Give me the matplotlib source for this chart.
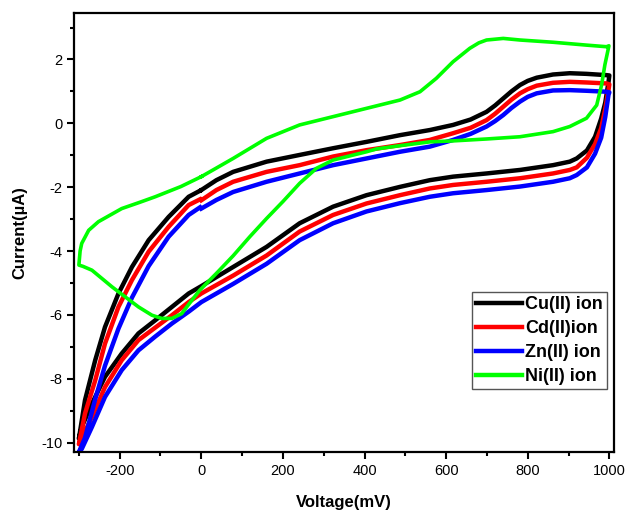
import matplotlib
matplotlib.use("Agg")
import matplotlib.pyplot as plt
from matplotlib.ticker import MultipleLocator

plt.rcParams['font.family'] = ['Liberation Sans', 'DejaVu Sans']
plt.rcParams['axes.unicode_minus'] = False

# Sweep path shared by Cu, Cd, Zn (mV): 0 -> 1000 -> -300 -> 0
v_path = [0, 37, 78, 160, 241, 323, 405, 487, 560, 617, 660, 699, 720, 740, 760, 781, 800, 822, 862, 903, 944, 993, 1000,
          998, 990, 980, 965, 945, 920, 903, 862, 781, 699, 617, 560, 487, 405, 323, 241, 160, 78, 0,
          -31, -72, -113, -154, -195, -236, -268, -293, -300,
          -285, -260, -236, -203, -170, -129, -80, -31, -3]

cu_current = [-2.09, -1.78, -1.52, -1.20, -0.99, -0.78, -0.58, -0.37, -0.21, -0.05, 0.12, 0.36, 0.56, 0.78, 1.00, 1.20, 1.33, 1.43, 1.53, 1.57, 1.55, 1.51, 1.50,
              1.30, 0.65, 0.15, -0.42, -0.85, -1.10, -1.20, -1.31, -1.46, -1.57, -1.67, -1.78, -1.99, -2.25, -2.61, -3.13, -3.87, -4.50, -5.10,
              -5.33, -5.75, -6.17, -6.58, -7.21, -7.94, -8.78, -9.51, -9.88,
              -8.67, -7.42, -6.38, -5.33, -4.50, -3.66, -2.93, -2.30, -2.11]

cd_current = [-2.41, -2.09, -1.83, -1.52, -1.31, -1.04, -0.84, -0.68, -0.52, -0.31, -0.14, 0.10, 0.30, 0.52, 0.74, 0.94, 1.07, 1.18, 1.27, 1.30, 1.28, 1.25, 1.22,
              1.05, 0.45, -0.15, -0.65, -1.08, -1.38, -1.46, -1.57, -1.72, -1.83, -1.93, -2.04, -2.25, -2.51, -2.87, -3.39, -4.14, -4.77, -5.33,
              -5.60, -6.01, -6.40, -6.79, -7.42, -8.26, -9.20, -9.85, -10.05,
              -9.09, -8.05, -6.90, -5.75, -4.91, -4.02, -3.24, -2.56, -2.38]

zn_current = [-2.67, -2.40, -2.15, -1.83, -1.57, -1.31, -1.10, -0.89, -0.73, -0.52, -0.33, -0.10, 0.07, 0.26, 0.48, 0.68, 0.83, 0.94, 1.03, 1.04, 1.02, 0.99, 0.97,
              0.90, 0.20, -0.45, -0.95, -1.38, -1.62, -1.72, -1.83, -1.98, -2.09, -2.19, -2.30, -2.50, -2.76, -3.13, -3.66, -4.40, -5.03, -5.60,
              -5.90, -6.27, -6.68, -7.11, -7.73, -8.57, -9.51, -10.20, -10.30,
              -9.85, -8.64, -7.59, -6.43, -5.46, -4.47, -3.55, -2.87, -2.63]

# Ni sweep path (mV) and current (uA)
ni_voltage = [0, 37, 78, 160, 241, 323, 405, 487, 536, 576, 617, 658, 680, 699, 740, 781, 862, 944, 993, 999,
              989, 981, 969, 944, 903, 862, 781, 699, 617, 560, 487, 430, 405, 323, 282, 241, 200, 160, 119, 78, 37, -4,
              -23, -48, -72, -97, -121, -154, -187, -219, -268, -290, -300,
              -297, -293, -276, -252, -195, -150, -113, -50, 0]
ni_current = [-1.67, -1.40, -1.10, -0.47, -0.05, 0.21, 0.47, 0.73, 0.99, 1.41, 1.93, 2.35, 2.52, 2.61, 2.66, 2.61, 2.54, 2.45, 2.40, 2.43,
              1.83, 1.20, 0.57, 0.16, -0.10, -0.26, -0.42, -0.49, -0.55, -0.58, -0.70, -0.80, -0.89, -1.15, -1.41, -1.88, -2.45, -2.98, -3.55, -4.15, -4.70, -5.23,
              -5.54, -5.96, -6.11, -6.11, -6.01, -5.75, -5.43, -5.12, -4.60, -4.48, -4.44,
              -4.00, -3.76, -3.35, -3.08, -2.67, -2.47, -2.30, -1.98, -1.67]

labels = ["Cu(II) ion", "Cd(II)ion", "Zn(II) ion", "Ni(II) ion"]
colors = ["#000000", "#ff0000", "#0000ff", "#00ff00"]

fig = plt.figure(figsize=(6.27, 5.15), dpi=100)
ax = fig.add_axes([0.118, 0.122, 0.861, 0.853])

ax.plot(v_path, cu_current, color=colors[0], lw=3.2, label=labels[0], solid_joinstyle='round')
ax.plot(v_path, cd_current, color=colors[1], lw=3.2, label=labels[1], solid_joinstyle='round')
ax.plot(v_path, zn_current, color=colors[2], lw=3.2, label=labels[2], solid_joinstyle='round')
ax.plot(ni_voltage, ni_current, color=colors[3], lw=2.6, label=labels[3], solid_joinstyle='round')

ax.set_xlim(-312, 1011)
ax.set_ylim(-10.3, 3.46)
ax.xaxis.set_major_locator(MultipleLocator(200))
ax.xaxis.set_minor_locator(MultipleLocator(100))
ax.yaxis.set_major_locator(MultipleLocator(2))
ax.yaxis.set_minor_locator(MultipleLocator(1))
ax.tick_params(which='both', direction='out', top=False, right=False, width=1.5, labelsize=10.5)
ax.tick_params(which='major', length=5)
ax.tick_params(which='minor', length=3)
for s in ax.spines.values():
    s.set_linewidth(1.6)

ax.set_xlabel("Voltage(mV)", fontsize=12, fontweight='bold', labelpad=12)
ax.set_ylabel("Current(\u00b5A)", fontsize=12, fontweight='bold', labelpad=10)

leg = ax.legend(loc='upper left', bbox_to_anchor=(0.737, 0.364), borderaxespad=0,
                prop={'weight': 'bold', 'size': 13}, frameon=True, fancybox=False,
                edgecolor='#555555', framealpha=1, handlelength=2.55, handletextpad=0.2,
                labelspacing=0.38, borderpad=0.22)
leg.get_frame().set_linewidth(1.0)
for line in leg.get_lines():
    line.set_linewidth(3.2)

fig.savefig("out.png", dpi=100)
